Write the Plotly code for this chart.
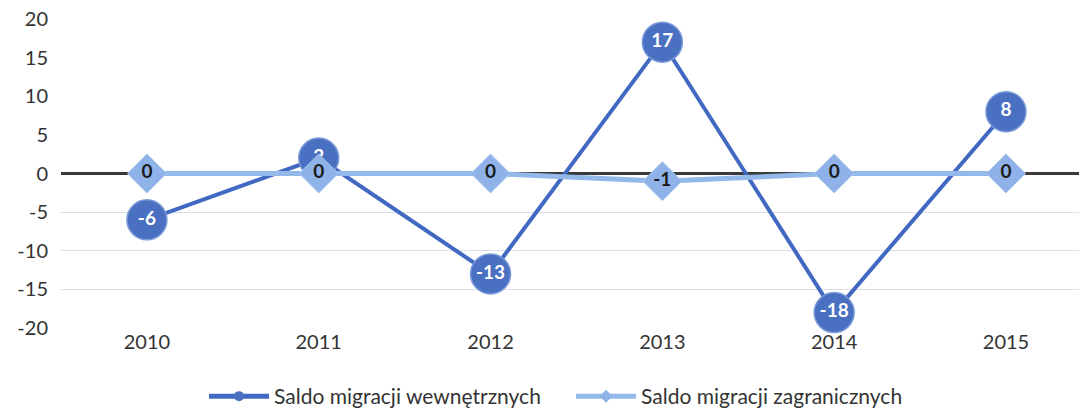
import plotly.graph_objects as go

years = ["2010", "2011", "2012", "2013", "2014", "2015"]
wewn = [-6, 2, -13, 17, -18, 8]
zagr = [0, 0, 0, -1, 0, 0]
name_wewn = "Saldo migracji wewnętrznych"
name_zagr = "Saldo migracji zagranicznych"
y_ticks = [20, 15, 10, 5, 0, -5, -10, -15, -20]
y_ticktext = ["20", "15", "10", "5", "0", "-5", "-10", "-15", "-20"]
grid_ticks = [-5, -10, -15, -20]

font_family = "Lato, 'Open Sans', sans-serif"
dark = "#4169C2"
light = "#93B8EA"

fig = go.Figure()
# dummy trace to activate the gridline axis
fig.add_trace(go.Scatter(x=[None], y=[None], yaxis="y2", showlegend=False,
                         hoverinfo="skip"))
fig.add_trace(go.Scatter(
    x=years, y=wewn, name=name_wewn, mode="lines+markers+text",
    line=dict(color=dark, width=4),
    marker=dict(symbol="circle", size=40, color="#4A70C2",
                line=dict(color="#7A9AD8", width=1.5)),
    text=[str(v) for v in wewn], textposition="middle center",
    textfont=dict(color="white", size=19, family=font_family, weight="bold"),
    cliponaxis=False, showlegend=False,
))
fig.add_trace(go.Scatter(
    x=years, y=zagr, name=name_zagr, mode="lines+markers+text",
    line=dict(color=light, width=5),
    marker=dict(symbol="diamond", size=30, color="#8FB3E8",
                line=dict(color="#A8C6EE", width=1)),
    text=[str(v) for v in zagr], textposition="middle center",
    textfont=dict(color="#1a1a1a", size=19, family=font_family, weight="bold"),
    cliponaxis=False, showlegend=False,
))
# legend-only entries with small markers
fig.add_trace(go.Scatter(
    x=[None], y=[None], name=name_wewn, mode="lines+markers",
    line=dict(color=dark, width=5),
    marker=dict(symbol="circle", size=10, color="#4A70C2"),
))
fig.add_trace(go.Scatter(
    x=[None], y=[None], name=name_zagr, mode="lines+markers",
    line=dict(color=light, width=5),
    marker=dict(symbol="diamond", size=10, color="#8FB3E8"),
))

fig.update_layout(
    width=1079, height=418,
    margin=dict(l=61, r=0, t=19, b=90),
    paper_bgcolor="white", plot_bgcolor="rgba(0,0,0,0)",
    font=dict(family=font_family, size=19, color="#333333"),
    showlegend=True,
    legend=dict(orientation="h", x=0.501, xanchor="center", y=-0.288, yanchor="bottom",
                font=dict(size=21, color="#333333"), itemwidth=60,
                entrywidth=292, entrywidthmode="pixels",
                tracegroupgap=0),
    xaxis=dict(type="category", range=[-0.5, 5.425], showgrid=False,
               showline=False, zeroline=False, ticks="", automargin=False,
               tickfont=dict(size=20, color="#333333")),
    yaxis=dict(range=[-20, 20], tickvals=y_ticks, ticktext=y_ticktext,
               showgrid=False, zeroline=True,
               zerolinecolor="#3A3A3A", zerolinewidth=3,
               ticks="", ticklabelstandoff=12, automargin=False,
               ticklabeloverflow="allow",
               tickfont=dict(size=20, color="#333333")),
    yaxis2=dict(range=[-20, 20], overlaying="y", tickvals=grid_ticks,
                showticklabels=False, showgrid=True, gridcolor="#DDDFE8",
                gridwidth=1, zeroline=False, ticks="", automargin=False),
)

fig.write_html("out.html", config={"displayModeBar": False},
               post_script="document.body.style.margin='0px';")
